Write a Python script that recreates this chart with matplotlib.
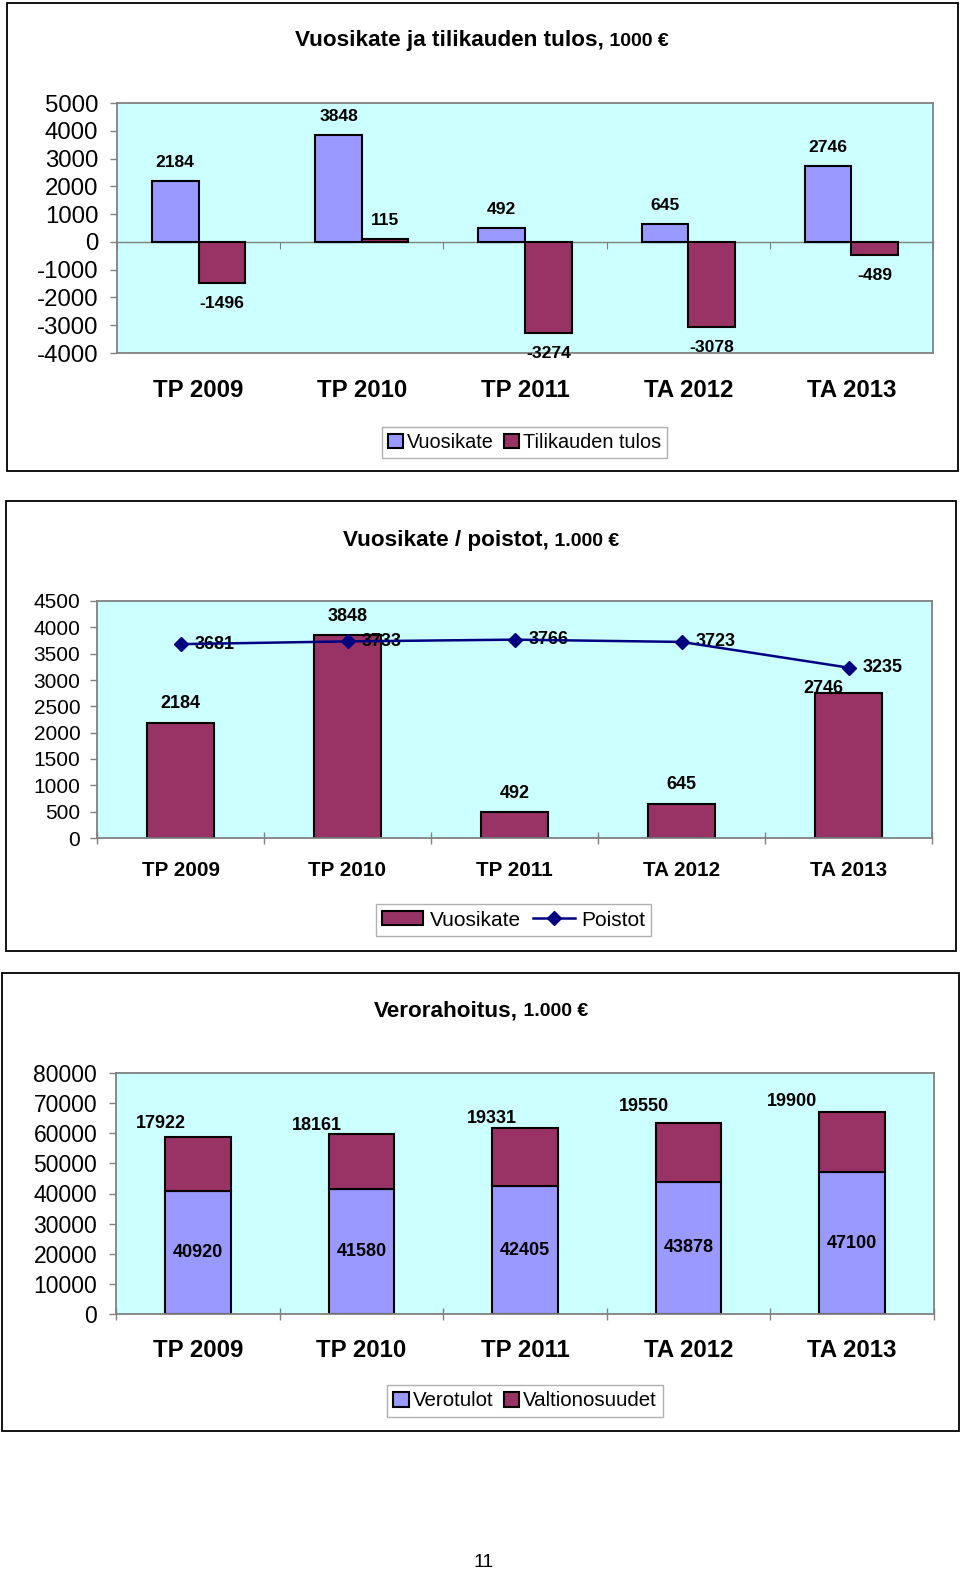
import matplotlib
matplotlib.use("Agg")
import matplotlib.pyplot as plt
from matplotlib.patches import Rectangle, Patch
from matplotlib.lines import Line2D
import numpy as np

plt.rcParams['font.family'] = ['Liberation Sans', 'DejaVu Sans']
plt.rcParams['axes.unicode_minus'] = False

# data
categories = ["TP 2009", "TP 2010", "TP 2011", "TA 2012", "TA 2013"]
vuosikate = [2184, 3848, 492, 645, 2746]
tilikauden_tulos = [-1496, 115, -3274, -3078, -489]
poistot = [3681, 3733, 3766, 3723, 3235]
verotulot = [40920, 41580, 42405, 43878, 47100]
valtionosuudet = [17922, 18161, 19331, 19550, 19900]

# label nudges in pixels (Excel had moved a few labels by hand)
vk2_label_shift = [(0, 15), (0, 14), (0, 14), (0, 15), (-25, 0)]
valt_label_shift = [(-37, 13), (-45, 9), (-33, 10), (-45, 16), (-60, 11)]

BLUE = "#9999FF"
PLUM = "#993366"
BG = "#CCFFFF"
GRAY = "#808080"
NAVY = "#000080"

W, H = 960, 1570
fig = plt.figure(figsize=(W / 100, H / 100), dpi=100)
PT = 0.72  # points per pixel at 100 dpi


def px_axes(x0, y0, x1, y1):
    return fig.add_axes([x0 / W, 1 - y1 / H, (x1 - x0) / W, (y1 - y0) / H])


def frame(x0, y0, x1, y1):
    fig.patches.append(Rectangle((x0 / W, 1 - y1 / H), (x1 - x0) / W, (y1 - y0) / H,
                                 transform=fig.transFigure, fill=False,
                                 edgecolor="black", lw=1.3))


def title(cx, base_y, main, tail):
    t1 = fig.text(0, 1 - base_y / H, main, fontsize=16.2, weight="bold", va="baseline")
    t2 = fig.text(0, 1 - base_y / H, " " + tail, fontsize=14, weight="bold", va="baseline")
    r = fig.canvas.get_renderer()
    w1 = t1.get_window_extent(r).width
    w2 = t2.get_window_extent(r).width
    x0 = cx - (w1 + w2) / 2
    t1.set_x(x0 / W)
    t2.set_x((x0 + w1) / W)


def style_axes(ax, ymin, ymax, step, size, pad):
    ax.set_facecolor(BG)
    ax.set_xlim(-0.5, 4.5)
    ax.set_ylim(ymin, ymax)
    ticks = list(range(ymin, ymax + 1, step))
    ax.set_yticks(ticks, [str(t) for t in ticks])
    for s in ax.spines.values():
        s.set_color(GRAY)
        s.set_linewidth(1.3)
    ax.tick_params(axis="y", colors=GRAY, labelcolor="black", length=5,
                   width=1, labelsize=size, pad=pad)


def cat_labels(ax, y_frac, size):
    for i, c in enumerate(categories):
        ax.text(i, y_frac, c, transform=ax.get_xaxis_transform(), ha="center",
                va="baseline", fontsize=size, weight="bold", clip_on=False)


x = np.arange(len(categories))
bounds = np.arange(-0.5, len(categories), 1)

# ---- panel 1: Vuosikate ja tilikauden tulos ----
frame(7, 3, 958, 471)
title(482, 46, "Vuosikate ja tilikauden tulos,", "1000 €")
ax1 = px_axes(117, 103, 933, 353)
style_axes(ax1, -4000, 5000, 1000, 17.3, 8.5)
ax1.set_xticks([])
w = 1 / 3.5
ax1.bar(x - w / 2, vuosikate, w, color=BLUE, edgecolor="black", lw=1.5, zorder=2)
ax1.bar(x + w / 2, tilikauden_tulos, w, color=PLUM, edgecolor="black", lw=1.5, zorder=2)
zero = ax1.secondary_xaxis(4000 / 9000)
zero.set_xticks(bounds)
zero.tick_params(length=5, color=GRAY, direction="out", labelbottom=False)
zero.spines["bottom"].set_color(GRAY)
zero.spines["bottom"].set_linewidth(1)
for xs, vals in ((x - w / 2, vuosikate), (x + w / 2, tilikauden_tulos)):
    for xi, v in zip(xs, vals):
        dy = 14 if v >= 0 else -25
        ax1.annotate(str(v), (xi, v), xytext=(0, dy * PT), textcoords="offset points",
                     ha="center", va="baseline", fontsize=12.6, weight="bold", zorder=3)
cat_labels(ax1, -44 / 250, 17.3)
fig.legend([Patch(facecolor=BLUE, edgecolor="black", lw=1.5),
            Patch(facecolor=PLUM, edgecolor="black", lw=1.5)],
           ["Vuosikate", "Tilikauden tulos"], loc="center",
           bbox_to_anchor=(524.5 / W, 1 - 442.5 / H), ncol=2, fontsize=14.3,
           fancybox=False, edgecolor="#b0b0b0", framealpha=1,
           handlelength=0.75, handleheight=0.75, handletextpad=0.2,
           columnspacing=0.5, borderpad=0.3, borderaxespad=0)

# ---- panel 2: Vuosikate / poistot ----
frame(6, 501, 956, 951)
title(481, 546, "Vuosikate / poistot,", "1.000 €")
ax2 = px_axes(97, 601, 932, 838)
style_axes(ax2, 0, 4500, 500, 15, 7)
ax2.set_xticks(bounds, [])
ax2.tick_params(axis="x", colors=GRAY, direction="inout", length=8.5, width=1)
ax2.bar(x, vuosikate, 0.4, color=PLUM, edgecolor="black", lw=1.5, zorder=2)
ax2.plot(x, poistot, color=NAVY, lw=1.8, marker="D", ms=7.5, zorder=4, clip_on=False)
for xi, v, (dx, dy) in zip(x, vuosikate, vk2_label_shift):
    ax2.annotate(str(v), (xi, v), xytext=(dx * PT, dy * PT), textcoords="offset points",
                 ha="center", va="baseline", fontsize=13, weight="bold", zorder=3)
for xi, v in zip(x, poistot):
    ax2.annotate(str(v), (xi, v), xytext=(14 * PT, 0), textcoords="offset points",
                 ha="left", va="center", fontsize=13, weight="bold", zorder=3)
cat_labels(ax2, -38 / 237, 14.9)
fig.legend([Patch(facecolor=PLUM, edgecolor="black", lw=1.5),
            Line2D([], [], color=NAVY, lw=1.8, marker="D", ms=7.5)],
           ["Vuosikate", "Poistot"], loc="center",
           bbox_to_anchor=(513.5 / W, 1 - 920 / H), ncol=2, fontsize=15,
           fancybox=False, edgecolor="#b0b0b0", framealpha=1,
           handlelength=2.0, handleheight=0.68, handletextpad=0.3,
           columnspacing=0.6, borderpad=0.3, borderaxespad=0)

# ---- panel 3: Verorahoitus ----
frame(2, 973, 959, 1431)
title(481, 1016, "Verorahoitus,", "1.000 €")
ax3 = px_axes(116, 1073, 934, 1314)
style_axes(ax3, 0, 80000, 10000, 16.5, 8.5)
ax3.set_xticks(bounds, [])
ax3.tick_params(axis="x", colors=GRAY, direction="inout", length=8.5, width=1)
ax3.bar(x, verotulot, 0.4, color=BLUE, edgecolor="black", lw=1.5, zorder=2)
ax3.bar(x, valtionosuudet, 0.4, bottom=verotulot, color=PLUM, edgecolor="black",
        lw=1.5, zorder=2)
for xi, v in zip(x, verotulot):
    ax3.text(xi, v / 2, str(v), ha="center", va="center", fontsize=13,
             weight="bold", zorder=3)
for xi, base, v, (dx, dy) in zip(x, verotulot, valtionosuudet, valt_label_shift):
    ax3.annotate(str(v), (xi, base + v), xytext=(dx * PT, dy * PT),
                 textcoords="offset points", ha="center", va="center",
                 fontsize=13, weight="bold", zorder=3)
cat_labels(ax3, -43 / 241, 17.3)
fig.legend([Patch(facecolor=BLUE, edgecolor="black", lw=1.5),
            Patch(facecolor=PLUM, edgecolor="black", lw=1.5)],
           ["Verotulot", "Valtionosuudet"], loc="center",
           bbox_to_anchor=(525 / W, 1 - 1401 / H), ncol=2, fontsize=14.8,
           fancybox=False, edgecolor="#b0b0b0", framealpha=1,
           handlelength=0.75, handleheight=0.75, handletextpad=0.2,
           columnspacing=0.5, borderpad=0.3, borderaxespad=0)

# page number
fig.text(484 / W, 1 - 1567 / H, "11", ha="center", va="baseline", fontsize=14)

fig.savefig("out.png", dpi=100)
